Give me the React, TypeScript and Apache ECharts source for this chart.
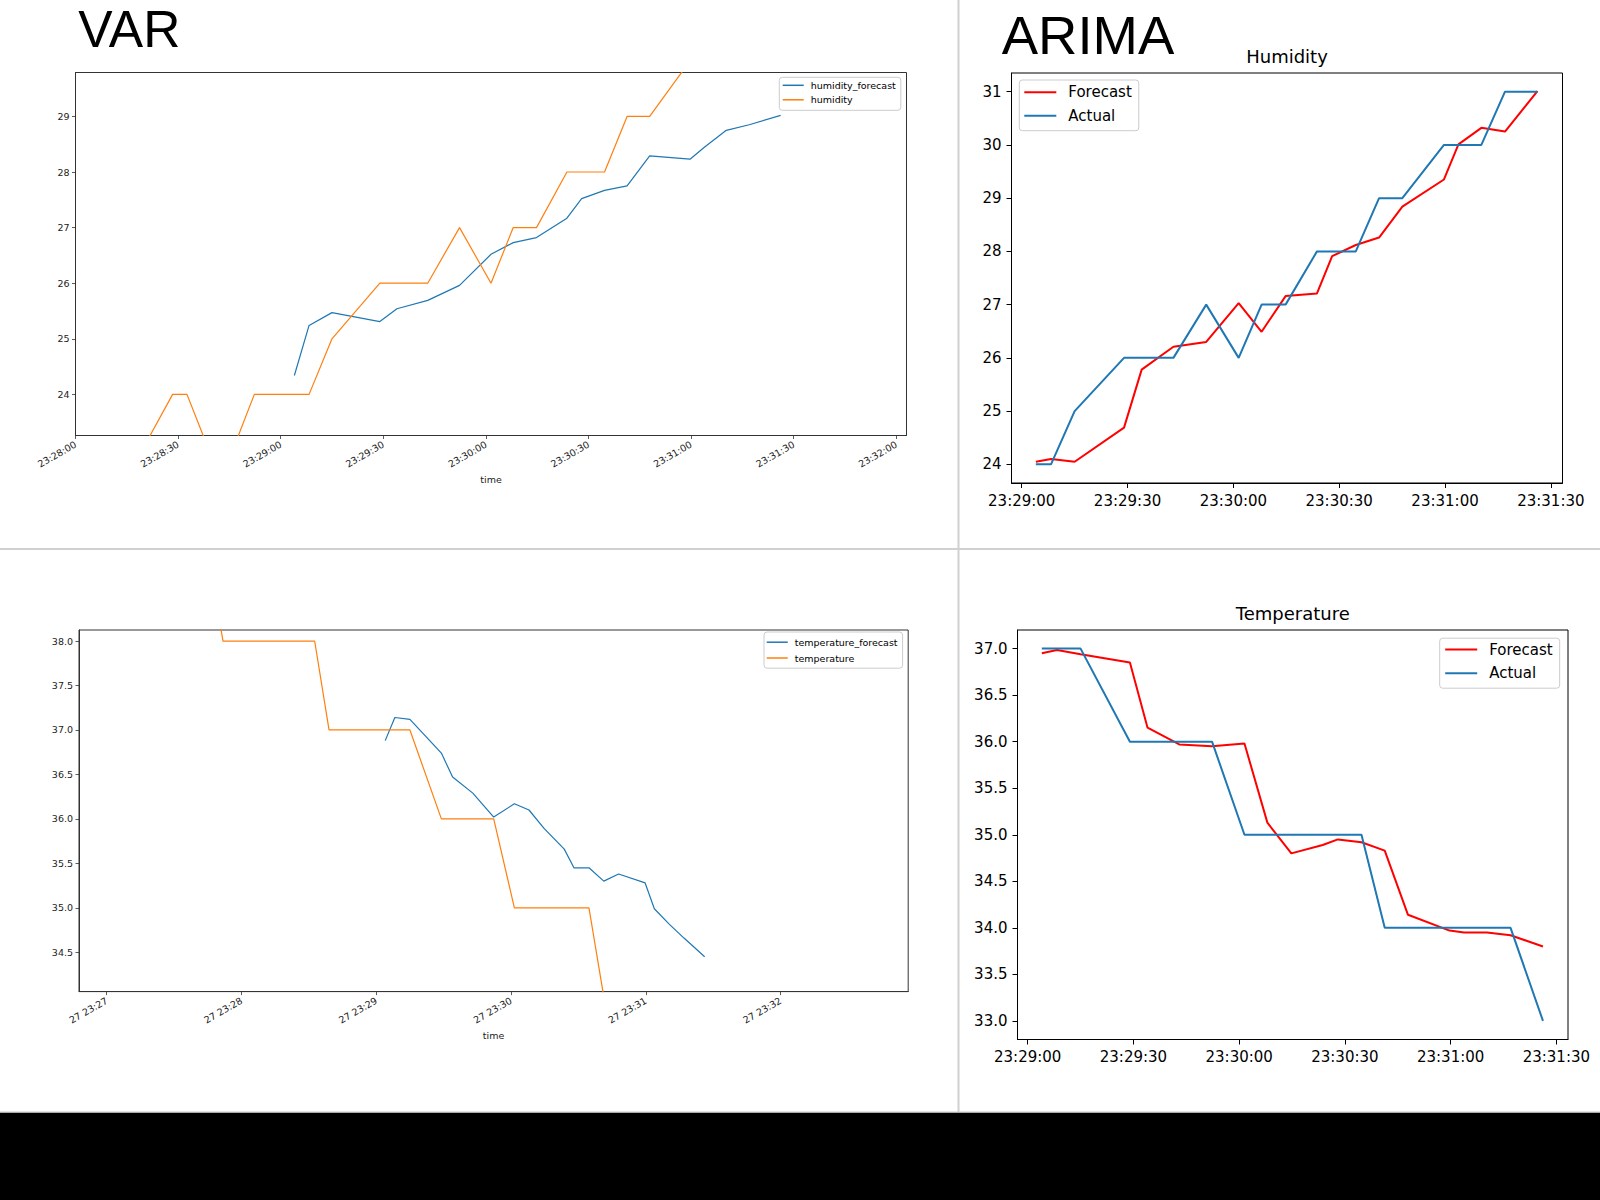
import React, { useEffect, useRef } from "react";
import * as echarts from "echarts";

// ---------- data ----------
const TIMES = [
  "23:27:45", "23:27:51.8", "23:28:19.5", "23:28:28.4", "23:28:32.6", "23:28:39", "23:28:46", "23:28:52.3",
  "23:29:04", "23:29:08.3", "23:29:15", "23:29:29", "23:29:34", "23:29:43", "23:29:52.3", "23:30:01.5",
  "23:30:08", "23:30:14.8", "23:30:23.7", "23:30:28", "23:30:34.7", "23:30:41.3", "23:30:47.9",
  "23:30:59.7", "23:31:03.8", "23:31:10.3", "23:31:17", "23:31:26.2",
];
const HUMIDITY = [23, 23, 23, 24, 24, 23, 23, 24, 24, 24, 25, 26, 26, 26, 27, 26, 27, 27, 28, 28, 28, 29, 29, 30, 30, 30, 31, 31];
const TEMPERATURE = [39, 38, 38, 38, 38, 37, 37, 37, 37, 37, 37, 36, 36, 36, 36, 35, 35, 35, 35, 35, 35, 34, 34, 34, 34, 34, 34, 33];

const FORECAST_TIMES = [
  "23:29:04", "23:29:08.3", "23:29:15", "23:29:29", "23:29:34", "23:29:43", "23:29:52.3", "23:30:01.5",
  "23:30:08", "23:30:14.8", "23:30:23.7", "23:30:28", "23:30:34.7", "23:30:41.3", "23:30:47.9",
  "23:30:59.7", "23:31:03.8", "23:31:10.3", "23:31:17", "23:31:26.2",
];
const ACTUAL_HUMIDITY = [24, 24, 25, 26, 26, 26, 27, 26, 27, 27, 28, 28, 28, 29, 29, 30, 30, 30, 31, 31];
const ACTUAL_TEMPERATURE = [37, 37, 37, 36, 36, 36, 36, 35, 35, 35, 35, 35, 35, 34, 34, 34, 34, 34, 34, 33];
const VAR_HUMIDITY_FORECAST = [24.34, 25.24, 25.47, 25.31, 25.54, 25.69, 25.96, 26.52, 26.73, 26.82, 27.17, 27.52, 27.67, 27.75, 28.29, 28.23, 28.44, 28.75, 28.85, 29.02];
const VAR_TEMPERATURE_FORECAST = [36.88, 37.14, 37.12, 36.74, 36.47, 36.29, 36.02, 36.17, 36.1, 35.89, 35.66, 35.45, 35.45, 35.3, 35.38, 35.28, 34.99, 34.82, 34.66, 34.45];
const ARIMA_HUMIDITY_FORECAST = [24.05, 24.1, 24.05, 24.69, 25.78, 26.21, 26.3, 27.03, 26.49, 27.16, 27.21, 27.91, 28.12, 28.26, 28.84, 29.35, 30.01, 30.32, 30.25, 31.01];
const ARIMA_TEMPERATURE_FORECAST = [36.95, 36.985, 36.94, 36.85, 36.15, 35.97, 35.95, 35.98, 35.13, 34.8, 34.89, 34.95, 34.92, 34.83, 34.14, 33.97, 33.95, 33.95, 33.92, 33.8];

// ---------- ticks & limits ----------
const VAR_HUM_XTICKS = ["23:28:00", "23:28:30", "23:29:00", "23:29:30", "23:30:00", "23:30:30", "23:31:00", "23:31:30", "23:32:00"];
const VAR_TEMP_XTICKS = ["27 23:27", "27 23:28", "27 23:29", "27 23:30", "27 23:31", "27 23:32"];
const ARIMA_XTICKS = ["23:29:00", "23:29:30", "23:30:00", "23:30:30", "23:31:00", "23:31:30"];
const VAR_HUM_YTICKS = [24, 25, 26, 27, 28, 29];
const VAR_TEMP_YTICKS = [34.5, 35.0, 35.5, 36.0, 36.5, 37.0, 37.5, 38.0];
const ARIMA_HUM_YTICKS = [24, 25, 26, 27, 28, 29, 30, 31];
const ARIMA_TEMP_YTICKS = [33.0, 33.5, 34.0, 34.5, 35.0, 35.5, 36.0, 36.5, 37.0];

const VAR_HUM_XLIM = ["23:28:00", "23:32:03"];
const VAR_TEMP_XLIM = ["23:26:47.7", "23:32:56.8"];
const ARIMA_XLIM = ["23:28:57.1", "23:31:33.3"];
const VAR_HUM_YLIM = [23.26, 29.79];
const VAR_TEMP_YLIM = [34.058, 38.124];
const ARIMA_HUM_YLIM = [23.65, 31.35];
const ARIMA_TEMP_YLIM = [32.8, 37.2];

// ---------- helpers ----------
const BASE = 23 * 3600 + 29 * 60;
function toSec(t: string): number {
  const part = t.split(" ").pop() as string;
  const [h, m, s] = part.split(":");
  return Number(h) * 3600 + Number(m) * 60 + (s !== undefined ? Number(s) : 0) - BASE;
}
function labelFor(ticks: string[]) {
  return (v: number) => {
    const hit = ticks.find((t) => Math.abs(toSec(t) - v) < 0.01);
    return hit ?? "";
  };
}
function pairs(times: string[], vals: number[]) {
  return times.map((t, i) => [toSec(t), vals[i]]);
}

const DJ = "'DejaVu Sans', sans-serif";
const BLUE = "#1f77b4";
const ORANGE = "#ff7f0e";
const RED = "#ff0000";

function xAxisVar(gridIndex: number, ticks: string[], lim: string[]) {
  const vals = ticks.map(toSec);
  return {
    type: "value",
    gridIndex,
    min: toSec(lim[0]),
    max: toSec(lim[1]),
    name: "time",
    nameLocation: "middle",
    nameGap: 39,
    nameTextStyle: { fontFamily: DJ, fontSize: 9.5, color: "#222" },
    splitLine: { show: false },
    axisLine: { show: true, onZero: false, lineStyle: { color: "#333", width: 1 } },
    axisTick: { show: true, customValues: vals, length: 3.5, lineStyle: { color: "#333", width: 0.8 } },
    axisLabel: {
      customValues: vals,
      formatter: labelFor(ticks),
      rotate: 30,
      margin: 8,
      fontFamily: DJ,
      fontSize: 9.5,
      color: "#222",
    },
  };
}
function yAxisVar(gridIndex: number, ticks: number[], lim: number[], decimals: number) {
  return {
    type: "value",
    gridIndex,
    min: lim[0],
    max: lim[1],
    splitLine: { show: false },
    axisLine: { show: true, onZero: false, lineStyle: { color: "#333", width: 1 } },
    axisTick: { show: true, customValues: ticks, length: 3.5, lineStyle: { color: "#333", width: 0.8 } },
    axisLabel: {
      customValues: ticks,
      formatter: (v: number) => v.toFixed(decimals),
      margin: 6,
      fontFamily: DJ,
      fontSize: 9.5,
      color: "#222",
    },
  };
}
function xAxisArima(gridIndex: number) {
  const vals = ARIMA_XTICKS.map(toSec);
  return {
    type: "value",
    gridIndex,
    min: toSec(ARIMA_XLIM[0]),
    max: toSec(ARIMA_XLIM[1]),
    splitLine: { show: false },
    axisLine: { show: true, onZero: false, lineStyle: { color: "#000", width: 1 } },
    axisTick: { show: true, customValues: vals, length: 5, lineStyle: { color: "#000", width: 1 } },
    axisLabel: {
      customValues: vals,
      formatter: labelFor(ARIMA_XTICKS),
      margin: 10,
      fontFamily: DJ,
      fontSize: 15,
      color: "#000",
    },
  };
}
function yAxisArima(gridIndex: number, ticks: number[], lim: number[], decimals: number) {
  return {
    type: "value",
    gridIndex,
    min: lim[0],
    max: lim[1],
    splitLine: { show: false },
    axisLine: { show: true, onZero: false, lineStyle: { color: "#000", width: 1 } },
    axisTick: { show: true, customValues: ticks, length: 5, lineStyle: { color: "#000", width: 1 } },
    axisLabel: {
      customValues: ticks,
      formatter: (v: number) => v.toFixed(decimals),
      margin: 10,
      fontFamily: DJ,
      fontSize: 15,
      color: "#000",
    },
  };
}
function line(name: string, idx: number, data: number[][], color: string, width: number) {
  return {
    type: "line",
    name,
    xAxisIndex: idx,
    yAxisIndex: idx,
    data,
    color,
    showSymbol: false,
    symbol: "none",
    clip: true,
    lineStyle: { color, width },
    emphasis: { disabled: true },
  };
}
function legend(names: string[], left: number, top: number, fontSize: number, itemWidth: number, itemGap: number, padding: number[], textPad: number) {
  return {
    orient: "vertical",
    left,
    top,
    data: names,
    icon: "rect",
    itemWidth,
    itemHeight: fontSize > 12 ? 2 : 1.5,
    itemGap,
    padding,
    backgroundColor: "rgba(255,255,255,0.8)",
    borderColor: "#cccccc",
    borderWidth: 1,
    borderRadius: 3,
    selectedMode: false,
    textStyle: { fontFamily: DJ, fontSize, color: "#000", padding: [0, 0, 0, textPad] },
  };
}

function buildOption() {
  return {
    animation: false,
    backgroundColor: "#ffffff",
    grid: [
      { left: 75.5, top: 72.5, width: 831, height: 363, show: true, borderColor: "#333", borderWidth: 1, backgroundColor: "transparent" },
      { left: 1011.5, top: 73, width: 551, height: 410, show: true, borderColor: "#000", borderWidth: 1, backgroundColor: "transparent" },
      { left: 79, top: 630, width: 829.2, height: 361.6, show: true, borderColor: "#333", borderWidth: 1, backgroundColor: "transparent" },
      { left: 1017.5, top: 630, width: 550.5, height: 409.5, show: true, borderColor: "#000", borderWidth: 1, backgroundColor: "transparent" },
    ],
    xAxis: [
      xAxisVar(0, VAR_HUM_XTICKS, VAR_HUM_XLIM),
      xAxisArima(1),
      xAxisVar(2, VAR_TEMP_XTICKS, VAR_TEMP_XLIM),
      xAxisArima(3),
    ],
    yAxis: [
      yAxisVar(0, VAR_HUM_YTICKS, VAR_HUM_YLIM, 0),
      yAxisArima(1, ARIMA_HUM_YTICKS, ARIMA_HUM_YLIM, 0),
      yAxisVar(2, VAR_TEMP_YTICKS, VAR_TEMP_YLIM, 1),
      yAxisArima(3, ARIMA_TEMP_YTICKS, ARIMA_TEMP_YLIM, 1),
    ],
    legend: [
      legend(["humidity_forecast", "humidity"], 779.3, 77.3, 9.5, 21, 4.5, [3, 5, 5.5, 3.4], 2),
      legend(["Forecast", "Actual"], 1019.3, 80, 15, 32, 8.4, [4.8, 7, 7.5, 5], 7),
      legend(["temperature_forecast", "temperature"], 764, 632, 9.5, 21, 5.8, [5.2, 5, 5.2, 2.7], 2),
      legend(["Forecast", "Actual"], 1439.7, 638.2, 15, 32, 8.6, [3.9, 7, 7.5, 5.5], 7),
    ],
    series: [
      line("humidity_forecast", 0, pairs(FORECAST_TIMES, VAR_HUMIDITY_FORECAST), BLUE, 1.2),
      line("humidity", 0, pairs(TIMES, HUMIDITY), ORANGE, 1.2),
      line("Forecast", 1, pairs(FORECAST_TIMES, ARIMA_HUMIDITY_FORECAST), RED, 2),
      line("Actual", 1, pairs(FORECAST_TIMES, ACTUAL_HUMIDITY), BLUE, 2),
      line("temperature_forecast", 2, pairs(FORECAST_TIMES, VAR_TEMPERATURE_FORECAST), BLUE, 1.2),
      line("temperature", 2, pairs(TIMES, TEMPERATURE), ORANGE, 1.2),
      line("Forecast", 3, pairs(FORECAST_TIMES, ARIMA_TEMPERATURE_FORECAST), RED, 2),
      line("Actual", 3, pairs(FORECAST_TIMES, ACTUAL_TEMPERATURE), BLUE, 2),
    ],
    graphic: [
      { type: "line", silent: true, shape: { x1: 958.5, y1: 0, x2: 958.5, y2: 1112 }, style: { stroke: "#d0d0d0", lineWidth: 2 } },
      { type: "line", silent: true, shape: { x1: 0, y1: 549, x2: 1600, y2: 549 }, style: { stroke: "#d0d0d0", lineWidth: 2 } },
      { type: "line", silent: true, shape: { x1: 0, y1: 1112, x2: 1600, y2: 1112 }, style: { stroke: "#c8c8c8", lineWidth: 1 } },
      { type: "rect", silent: true, shape: { x: 0, y: 1112.7, width: 1600, height: 88 }, style: { fill: "#000" } },
      {
        type: "text", silent: true, x: 78.3, y: 28.5,
        style: { text: "VAR", fontFamily: "'Liberation Sans', Arial, sans-serif", fontSize: 51.5, fill: "#000", align: "left", verticalAlign: "middle" },
      },
      {
        type: "text", silent: true, x: 1001.7, y: 35,
        style: { text: "ARIMA", fontFamily: "'Liberation Sans', Arial, sans-serif", fontSize: 54.5, fill: "#000", align: "left", verticalAlign: "middle" },
      },
      {
        type: "text", silent: true, x: 1287, y: 56,
        style: { text: "Humidity", fontFamily: DJ, fontSize: 18, fill: "#000", align: "center", verticalAlign: "middle" },
      },
      {
        type: "text", silent: true, x: 1292.8, y: 613.2,
        style: { text: "Temperature", fontFamily: DJ, fontSize: 18, fill: "#000", align: "center", verticalAlign: "middle" },
      },
    ],
  };
}

export default function App() {
  const ref = useRef<HTMLDivElement>(null);
  useEffect(() => {
    if (!ref.current) return;
    const chart = echarts.init(ref.current, undefined, { renderer: "svg", width: 1600, height: 1200 });
    chart.setOption(buildOption() as any);
    return () => chart.dispose();
  }, []);
  return (
    <div
      ref={ref}
      style={{ position: "fixed", left: 0, top: 0, width: 1600, height: 1200, background: "#fff" }}
    />
  );
}
